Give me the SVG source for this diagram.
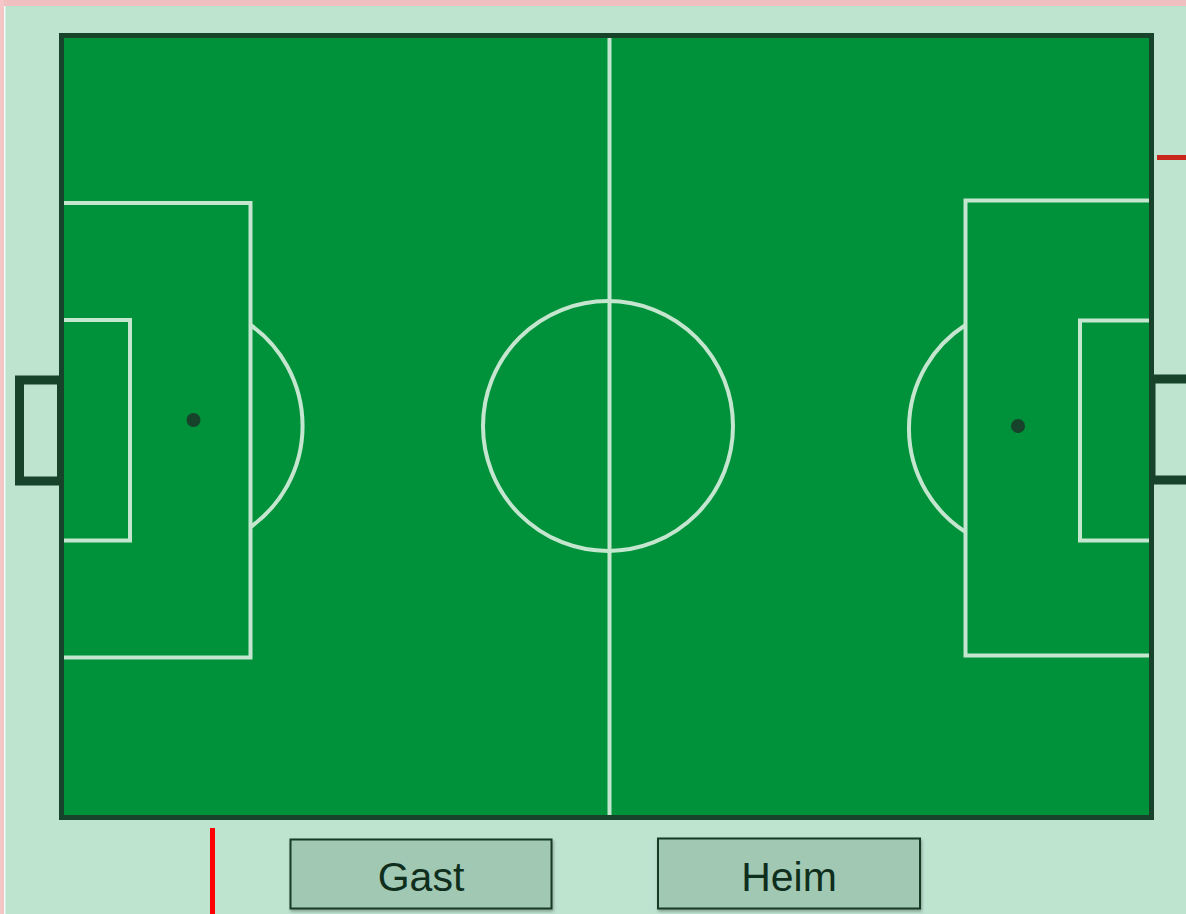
<svg xmlns="http://www.w3.org/2000/svg" width="1186" height="914" viewBox="0 0 1186 914">
  <defs>
    <style>
      .line { fill: none; stroke: #c4e6cf; stroke-width: 4; }
      .border { stroke: #17432a; }
      .spot { fill: #17432a; }
      .box { fill: #a0c8b3; stroke: #163a24; stroke-width: 2; }
      .label { font-family: "Liberation Sans", Arial, sans-serif; font-size: 41px; fill: #0f2e1c; text-anchor: middle; }
    </style>
    <filter id="sh" x="-10%" y="-10%" width="120%" height="130%">
      <feDropShadow dx="1" dy="2" stdDeviation="1.5" flood-color="#000" flood-opacity="0.3"/>
    </filter>
  </defs>
  <!-- background -->
  <rect x="0" y="0" width="1186" height="914" fill="#bee4d0"/>
  <rect x="0" y="0" width="1186" height="6" fill="#f0bfbf"/>
  <rect x="0" y="0" width="4" height="914" fill="#f5c6c6"/>
  <rect x="4" y="6" width="1.5" height="908" fill="#f2fbf6"/>

  <!-- goals -->
  <g id="goal-left">
    <rect x="19.5" y="380" width="42" height="101" fill="#bee4d0" class="border" stroke-width="9"/>
  </g>
  <g id="goal-right">
    <rect x="1151" y="379" width="45" height="101" fill="#bee4d0" class="border" stroke-width="9"/>
  </g>

  <!-- pitch -->
  <g id="pitch">
    <rect x="61.5" y="35.5" width="1090" height="782" fill="#00923a" class="border" stroke-width="5"/>
    <line class="line" x1="609.5" y1="38" x2="609.5" y2="815"/>
    <circle class="line" cx="608" cy="426" r="125"/>
  </g>

  <g id="left-half">
    <polyline class="line" points="64,203 250.5,203 250.5,657.5 64,657.5"/>
    <polyline class="line" points="64,320 130,320 130,540.5 64,540.5"/>
    <path class="line" d="M250.5,325 A124,124 0 0 1 250.5,527"/>
    <circle class="spot" cx="193.5" cy="420" r="7"/>
  </g>

  <g id="right-half">
    <polyline class="line" points="1149,200.5 965.5,200.5 965.5,655.5 1149,655.5"/>
    <polyline class="line" points="1149,320.5 1080,320.5 1080,540.5 1149,540.5"/>
    <path class="line" d="M965.5,325 A123,123 0 0 0 965.5,532"/>
    <circle class="spot" cx="1018" cy="426" r="7"/>
  </g>

  <!-- red markers -->
  <g id="markers">
    <line x1="1157" y1="157.5" x2="1186" y2="157.5" stroke="#c8281c" stroke-width="5"/>
    <line x1="212.5" y1="828" x2="212.5" y2="914" stroke="#ff0000" stroke-width="5"/>
  </g>

  <!-- buttons -->
  <g id="node-gast">
    <rect class="box" x="290.5" y="839.5" width="261" height="69" filter="url(#sh)"/>
    <text class="label" x="421" y="891">Gast</text>
  </g>
  <g id="node-heim">
    <rect class="box" x="658" y="838.5" width="262" height="70" filter="url(#sh)"/>
    <text class="label" x="789" y="891">Heim</text>
  </g>
</svg>
